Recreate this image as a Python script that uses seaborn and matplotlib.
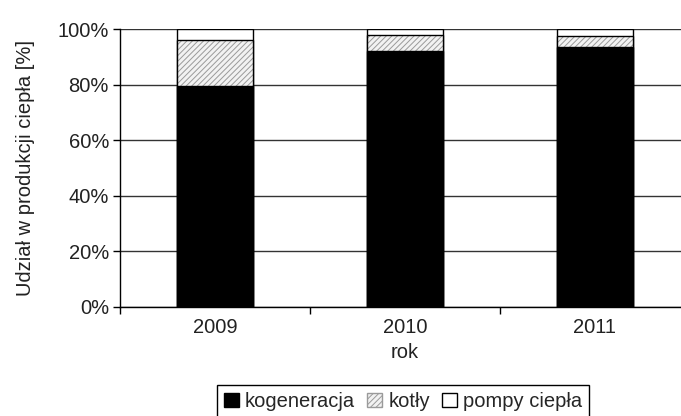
import numpy as np
import pandas as pd
import matplotlib
matplotlib.use('Agg')
import matplotlib.pyplot as plt
from matplotlib.patches import Patch
from matplotlib.ticker import FixedLocator
import seaborn as sns

# data (share of heat production, %)
years = ['2009', '2010', '2011']
kogeneracja = [79.5, 92.0, 93.5]
kotly = [16.4, 5.7, 3.9]
pompy = [4.1, 2.3, 2.6]
series_names = ['kogeneracja', 'kotły', 'pompy ciepła']

sns.set_theme(style='white')
plt.rcParams['font.family'] = ['Liberation Sans', 'DejaVu Sans']
plt.rcParams['hatch.linewidth'] = 0.7
FS = 14.5
HATCH_EDGE = '#9a9a9a'

df = pd.DataFrame({'rok': years, 'kog': kogeneracja, 'kot': kotly, 'pom': pompy})
df['lvl2'] = df['kog'] + df['kot']
df['lvl3'] = df['lvl2'] + df['pom']

fig = plt.figure(figsize=(6.81, 4.16), dpi=100)
ax = fig.add_axes([120 / 681, 1 - 307 / 416, 570 / 681, 278 / 416])

W = 0.4
common = dict(x='rok', order=years, errorbar=None, width=W, saturation=1, ax=ax)
# stacked by overlaying cumulative totals, top segment first
sns.barplot(data=df, y='lvl3', color='white', edgecolor='black', linewidth=1, **common)
sns.barplot(data=df, y='lvl2', color='#f2f2f2', edgecolor=HATCH_EDGE, linewidth=0,
            hatch='//////', **common)
sns.barplot(data=df, y='lvl2', fill=False, edgecolor='black', linewidth=1, **common)
sns.barplot(data=df, y='kog', color='black', edgecolor='black', linewidth=1, **common)

ax.set_xlim(-0.5, len(years) - 0.5)
ax.set_ylim(0, 100)
ax.set_yticks(np.arange(0, 101, 20))
ax.set_yticklabels([f'{v}%' for v in range(0, 101, 20)], fontsize=FS, color='#222222')
ax.yaxis.grid(True, color='#333333', linewidth=1)
ax.set_axisbelow(True)

ax.set_xticks(range(len(years)))
ax.set_xticklabels(years, fontsize=FS, color='#222222')
ax.xaxis.set_minor_locator(FixedLocator(np.arange(-0.5, len(years), 1.0)))
ax.tick_params(axis='x', which='major', length=0, pad=8)
ax.tick_params(axis='x', which='minor', length=5, width=1, color='black', direction='out', bottom=True)
ax.tick_params(axis='y', length=5, width=1, color='black', direction='out', left=True, pad=3)

for side in ['top', 'right']:
    ax.spines[side].set_visible(False)
for side in ['left', 'bottom']:
    ax.spines[side].set_color('black')
    ax.spines[side].set_linewidth(1)

ax.set_xlabel('rok', fontsize=FS, color='#222222', labelpad=4)
ax.set_ylabel('Udział w produkcji ciepła [%]', fontsize=FS, color='#222222', labelpad=16)

handles = [
    Patch(facecolor='black', edgecolor='black'),
    Patch(facecolor='#f2f2f2', edgecolor=HATCH_EDGE, hatch='//////'),
    Patch(facecolor='white', edgecolor='black'),
]
leg = fig.legend(handles, series_names, loc='upper center', ncol=3,
                 bbox_to_anchor=(403 / 681, 1 - 385 / 416), fontsize=FS,
                 frameon=True, fancybox=False, edgecolor='black', framealpha=1,
                 handlelength=0.75, handleheight=0.75, handletextpad=0.3,
                 columnspacing=0.6, borderpad=0.35, borderaxespad=0)
leg.get_frame().set_linewidth(1)

fig.savefig('out.png', dpi=100)
